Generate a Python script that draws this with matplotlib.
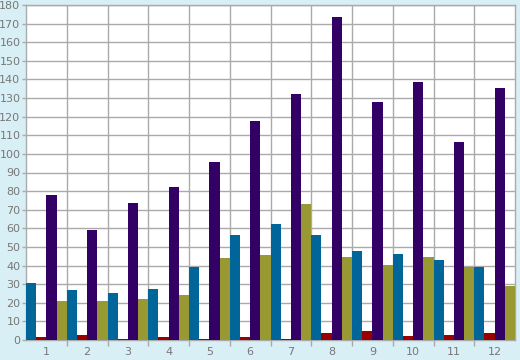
import numpy as np
import matplotlib.pyplot as plt

# Data
categories = ['1', '2', '3', '4', '5', '6', '7', '8', '9', '10', '11', '12']
blue_vals = [30.5, 26.9, 25.2, 27.4, 39.2, 56.4, 62.3, 56.4, 47.8, 46.2, 43.0, 39.2]
red_vals = [1.6, 2.7, 0.4, 1.6, 0.3, 1.6, 0.6, 3.8, 4.8, 2.2, 2.7, 3.8]
purple_vals = [77.9, 59.1, 73.6, 82.2, 95.6, 117.7, 132.2, 173.6, 127.9, 138.6, 106.4, 135.4]
olive_vals = [21.0, 21.0, 22.0, 24.2, 44.0, 45.7, 73.0, 44.6, 40.3, 44.6, 39.2, 29.0]

series = [blue_vals, red_vals, purple_vals, olive_vals]
colors = ['#006699', '#990000', '#330066', '#999933']

bg = '#d9eff6'
grid_col = '#aaaaaa'
text_col = '#777777'

fig = plt.figure(figsize=(5.2, 3.6), dpi=100, facecolor=bg)
ax = fig.add_axes([26 / 520, 20 / 360, 489 / 520, 335 / 360])
ax.set_facecolor('white')

x = np.arange(len(categories))
w = 0.25
for k, (vals, c) in enumerate(zip(series, colors)):
    ax.bar(x - 0.375 + k * w, vals, width=w, color=c, linewidth=0, zorder=3)

ax.set_xlim(-0.5, len(categories) - 0.5)
ax.set_ylim(0, 180)
ax.set_yticks(np.arange(0, 181, 10))
ax.set_xticks(x)
ax.set_xticklabels(categories)
ax.set_xticks(np.arange(0.5, len(categories) - 0.5, 1), minor=True)

ax.set_axisbelow(True)
ax.grid(axis='y', which='major', color=grid_col, linewidth=1)
ax.grid(axis='x', which='minor', color=grid_col, linewidth=1)

ax.tick_params(axis='x', which='major', length=0, labelsize=8, labelcolor=text_col, pad=5)
ax.tick_params(axis='x', which='minor', length=4, color=grid_col, width=1)
ax.tick_params(axis='y', which='major', length=3, color=grid_col, width=1,
               labelsize=8, labelcolor=text_col, pad=1)

for s in ax.spines.values():
    s.set_color(grid_col)
    s.set_linewidth(1)

fig.savefig('out.png', dpi=100, facecolor=bg)
